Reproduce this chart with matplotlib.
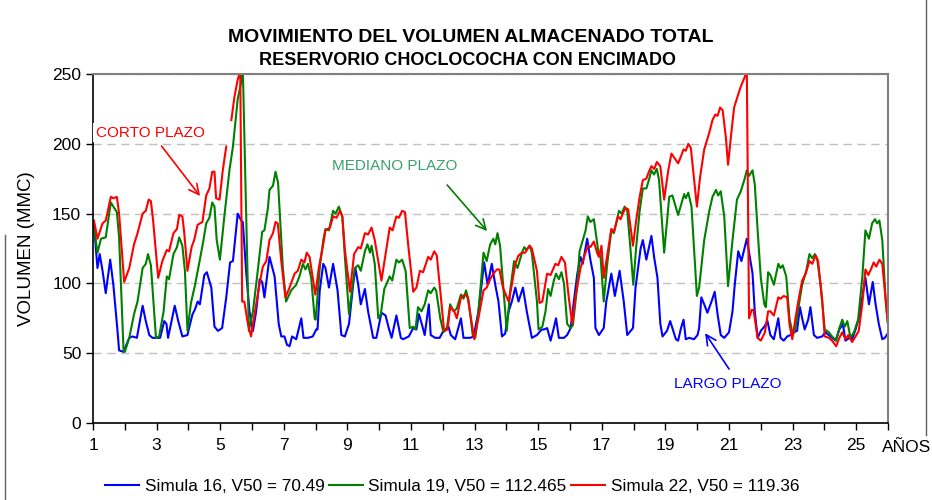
import matplotlib
matplotlib.use("Agg")
import matplotlib.pyplot as plt
import numpy as np

plt.rcParams['font.family'] = ['Liberation Sans', 'DejaVu Sans']

# years (x) and stored volume (MMC)
red_x = [1.03, 1.14, 1.30, 1.40, 1.56, 1.64, 1.75, 1.82, 1.98, 2.14, 2.29, 2.40, 2.56, 2.66, 2.75, 2.82, 2.89,
         3.05, 3.18, 3.32, 3.39, 3.53, 3.64, 3.71, 3.81, 3.87, 3.97, 4.10, 4.18, 4.29, 4.44, 4.56, 4.66, 4.75,
         4.82, 4.87, 4.98, 5.08, 5.19, 5.27, 5.35, 5.45, 5.55, 5.63, 5.69, 5.76, 5.87, 5.97, 6.08, 6.24, 6.34,
         6.45, 6.55, 6.66, 6.74, 6.81, 6.92, 7.05, 7.18, 7.34, 7.44, 7.55, 7.65, 7.72, 7.81, 7.99, 8.10, 8.24,
         8.31, 8.45, 8.55, 8.66, 8.76, 8.84, 8.92, 9.08, 9.21, 9.34, 9.42, 9.55, 9.65, 9.76, 9.86, 10.07, 10.20,
         10.33, 10.42, 10.54, 10.62, 10.72, 10.81, 10.91, 11.07, 11.17, 11.28, 11.38, 11.54, 11.62, 11.73, 11.81,
         11.94, 12.04, 12.15, 12.23, 12.36, 12.44, 12.57, 12.70, 12.78, 12.99, 13.12, 13.28, 13.38, 13.49, 13.59,
         13.70, 13.78, 13.89, 14.07, 14.17, 14.28, 14.38, 14.49, 14.59, 14.73, 14.80, 14.96, 15.04, 15.13, 15.28,
         15.39, 15.54, 15.63, 15.73, 15.84, 15.96, 16.07, 16.17, 16.33, 16.47, 16.57, 16.64, 16.75, 16.85, 16.91,
         16.99, 17.06, 17.17, 17.30, 17.38, 17.51, 17.59, 17.66, 17.74, 17.83, 17.98, 18.08, 18.19, 18.29, 18.40,
         18.48, 18.56, 18.65, 18.73, 18.84, 18.96, 19.09, 19.19, 19.28, 19.40, 19.49, 19.57, 19.64, 19.72, 19.80,
         19.99, 20.09, 20.22, 20.38, 20.48, 20.57, 20.64, 20.72, 20.80, 20.90, 20.97, 21.06, 21.16, 21.27, 21.37,
         21.48, 21.56, 21.63, 21.71, 21.77, 21.90, 22.00, 22.13, 22.23, 22.30, 22.41, 22.55, 22.62, 22.72, 22.83,
         22.90, 22.99, 23.09, 23.20, 23.30, 23.41, 23.53, 23.62, 23.72, 23.80, 23.93, 24.01, 24.14, 24.24, 24.37,
         24.47, 24.56, 24.66, 24.75, 24.87, 24.98, 25.08, 25.19, 25.29, 25.38, 25.48, 25.55, 25.63, 25.73, 25.82,
         25.92, 25.99]
red_y = [145, 132, 143, 145, 162, 161, 162, 150, 101, 111, 128, 136, 150, 152, 160, 159, 145,
         104, 116, 124, 123, 136, 139, 149, 148, 136, 109, 126, 131, 142, 144, 163, 168, 180,
         180, 161, 160, 181, 198, np.nan, 217, 234, 246, 252, 87, 87, 71, 62, 78, 100, 112,
         116, 131, 136, 144, 143, 116, 90, 97, 107, 109, 117, 115, 122, 119, 92, 111, 128,
         138, 140, 148, 147, 152, 148, 124, 94, 121, 126, 125, 136, 135, 140, 131, 102, 121,
         140, 138, 148, 147, 152, 151, 128, 94, 97, 109, 108, 119, 117, 123, 120,
         90, 66, 67, 83, 80, 75, 90, 92, 90, 60, 75, 95, 97, 103, 107,
         110, 110, 97, 87, 99, 114, 120, 122, 122, 127, 125, 109, 86, 87, 107,
         106, 114, 113, 119, 115, 90, 71, 90, 111, 121, 127, 126, 130, 122, 119,
         127, 104, 120, 139, 137, 148, 146, 150, 154, 153, 127, 145, 162, 174, 175,
         180, 184, 182, 187, 184, 160, 181, 193, 190, 186, 191, 196, 195, 200, 197,
         155, 176, 196, 208, 217, 221, 220, 226, 224, 205, 185, 205, 226, 234, 241,
         247, 252, 75, 81, 81, 61, 59, 65, 80, 80, 77, 90, 89, 91, 90,
         71, 60, 75, 90, 102, 107, 116, 114, 120, 116, 88, 62, 61, 59, 55,
         61, 65, 60, 63, 58, 62, 66, 85, 110, 106, 111, 115, 112, 117, 114,
         90, 73]

green_x = [1.03, 1.14, 1.25, 1.40, 1.56, 1.75, 1.82, 1.96, 2.00, 2.14, 2.29, 2.40, 2.56, 2.66, 2.73, 2.82, 2.98,
           3.08, 3.22, 3.32, 3.39, 3.53, 3.64, 3.71, 3.81, 3.89, 3.97, 4.08, 4.20, 4.31, 4.45, 4.56, 4.66, 4.75,
           4.82, 4.89, 4.99, 5.13, 5.29, 5.40, 5.55, 5.66, 5.71, 5.90, 6.03, 6.18, 6.32, 6.39, 6.50, 6.55, 6.66,
           6.74, 6.82, 6.97, 7.07, 7.23, 7.39, 7.49, 7.60, 7.68, 7.76, 7.86, 7.97, 8.00, 8.13, 8.24, 8.31, 8.42,
           8.55, 8.63, 8.73, 8.84, 8.92, 9.05, 9.23, 9.34, 9.42, 9.55, 9.63, 9.71, 9.76, 9.86, 9.97, 10.05, 10.16,
           10.33, 10.41, 10.54, 10.62, 10.72, 10.83, 10.96, 11.07, 11.14, 11.22, 11.33, 11.43, 11.54, 11.62, 11.73,
           11.79, 11.92, 12.02, 12.13, 12.23, 12.34, 12.44, 12.57, 12.65, 12.73, 12.81, 12.94, 13.02, 13.12, 13.28,
           13.38, 13.49, 13.59, 13.65, 13.72, 13.80, 13.91, 14.01, 14.12, 14.24, 14.35, 14.49, 14.56, 14.62, 14.73,
           14.80, 14.96, 15.01, 15.13, 15.23, 15.31, 15.39, 15.49, 15.56, 15.65, 15.73, 15.81, 15.91, 16.02, 16.09,
           16.23, 16.30, 16.40, 16.49, 16.56, 16.64, 16.75, 16.89, 16.96, 17.06, 17.17, 17.30, 17.38, 17.54, 17.62,
           17.72, 17.80, 17.90, 17.99, 18.08, 18.19, 18.29, 18.40, 18.48, 18.56, 18.64, 18.73, 18.80, 18.96, 19.12,
           19.22, 19.40, 19.59, 19.64, 19.72, 19.82, 19.99, 20.06, 20.22, 20.38, 20.48, 20.59, 20.66, 20.74, 20.85,
           20.97, 21.11, 21.25, 21.37, 21.48, 21.56, 21.63, 21.74, 21.81, 21.90, 22.00, 22.11, 22.16, 22.23, 22.30,
           22.41, 22.55, 22.62, 22.69, 22.80, 22.90, 23.01, 23.09, 23.20, 23.30, 23.43, 23.53, 23.62, 23.70, 23.77,
           23.88, 24.01, 24.14, 24.24, 24.37, 24.47, 24.56, 24.64, 24.72, 24.82, 24.93, 25.06, 25.19, 25.29, 25.40,
           25.50, 25.59, 25.66, 25.73, 25.82, 25.92, 25.99]
green_y = [140, 122, 132, 133, 158, 151, 133, 52, 51, 61, 78, 87, 111, 114, 121, 113, 61,
           62, 80, 105, 103, 121, 126, 133, 127, 109, 66, 86, 98, 111, 128, 143, 147, 158,
           155, 131, 117, 148, 181, 198, 232, 244, 255, 66, 80, 109, 137, 138, 154, 167, 170,
           180, 172, 111, 87, 95, 99, 105, 114, 110, 114, 104, 75, 74, 111, 131, 139, 138,
           152, 150, 155, 148, 119, 78, 111, 113, 109, 123, 128, 122, 127, 114, 75, 78, 96,
           105, 102, 117, 115, 117, 109, 68, 69, 67, 83, 80, 85, 95, 93, 97,
           95, 75, 65, 68, 85, 80, 82, 92, 89, 95, 88, 63, 61, 80, 122,
           116, 128, 132, 128, 136, 127, 95, 66, 95, 116, 111, 122, 126, 124, 127,
           122, 87, 67, 69, 80, 96, 91, 102, 107, 103, 108, 100, 71, 68, 70,
           99, 123, 131, 138, 148, 144, 146, 123, 119, 87, 114, 138, 136, 152, 150,
           155, 152, 125, 99, 126, 152, 168, 168, 174, 181, 178, 182, 174, 122, 162,
           163, 149, 164, 161, 165, 155, 91, 97, 131, 152, 162, 167, 163, 166, 148,
           98, 131, 160, 166, 174, 181, 177, 181, 171, 138, 104, 85, 83, 108, 106,
           99, 114, 111, 113, 105, 75, 63, 68, 85, 99, 109, 121, 118, 121, 118,
           99, 67, 65, 62, 59, 68, 74, 69, 73, 61, 65, 74, 104, 138, 132,
           143, 146, 143, 145, 131, 90, 72]

blue_x = [1.03, 1.14, 1.21, 1.30, 1.40, 1.54, 1.64, 1.77, 1.82, 1.96, 2.14, 2.24, 2.38, 2.56, 2.66, 2.77, 2.87,
          3.11, 3.24, 3.31, 3.36, 3.45, 3.57, 3.68, 3.81, 3.97, 4.02, 4.13, 4.20, 4.29, 4.36, 4.50, 4.58, 4.72,
          4.82, 4.93, 5.06, 5.19, 5.31, 5.40, 5.55, 5.66, 5.71, 5.82, 5.92, 6.03, 6.13, 6.24, 6.32, 6.39, 6.55,
          6.71, 6.84, 6.92, 7.02, 7.10, 7.18, 7.26, 7.39, 7.55, 7.62, 7.76, 7.91, 8.02, 8.06, 8.13, 8.24, 8.31,
          8.42, 8.55, 8.69, 8.81, 8.92, 9.05, 9.18, 9.25, 9.34, 9.42, 9.55, 9.65, 9.81, 9.91, 10.07, 10.20, 10.30,
          10.39, 10.54, 10.68, 10.75, 10.93, 11.07, 11.17, 11.25, 11.35, 11.43, 11.56, 11.62, 11.76, 11.90, 12.02,
          12.18, 12.25, 12.39, 12.57, 12.65, 12.86, 12.97, 13.12, 13.30, 13.41, 13.54, 13.65, 13.75, 13.86, 13.96,
          14.07, 14.17, 14.28, 14.38, 14.52, 14.64, 14.80, 14.96, 15.11, 15.18, 15.28, 15.39, 15.49, 15.56, 15.65,
          15.81, 15.91, 16.02, 16.12, 16.23, 16.33, 16.40, 16.54, 16.64, 16.75, 16.80, 16.91, 17.06, 17.14, 17.30,
          17.41, 17.56, 17.69, 17.80, 17.98, 18.06, 18.22, 18.29, 18.40, 18.56, 18.65, 18.75, 18.84, 18.91, 19.05,
          19.15, 19.22, 19.33, 19.40, 19.49, 19.57, 19.64, 19.75, 19.90, 20.01, 20.06, 20.13, 20.22, 20.32, 20.45,
          20.55, 20.64, 20.74, 20.85, 21.00, 21.11, 21.18, 21.29, 21.39, 21.56, 21.69, 21.74, 21.81, 21.90, 22.00,
          22.11, 22.21, 22.30, 22.41, 22.55, 22.62, 22.72, 22.83, 22.93, 23.04, 23.14, 23.23, 23.30, 23.38, 23.49,
          23.56, 23.67, 23.77, 23.93, 24.03, 24.19, 24.35, 24.47, 24.58, 24.66, 24.79, 24.87, 24.98, 25.08, 25.19,
          25.29, 25.40, 25.52, 25.61, 25.71, 25.82, 25.90, 25.99]
blue_y = [142, 111, 121, 109, 93, 117, 99, 66, 52, 51, 61, 62, 61, 84, 73, 63, 61,
          61, 73, 71, 61, 71, 84, 73, 62, 63, 68, 78, 81, 87, 85, 106, 108, 97,
          69, 66, 68, 90, 115, 116, 150, 145, 144, 107, 80, 66, 80, 103, 101, 90, 119,
          105, 71, 62, 62, 56, 55, 62, 60, 75, 61, 61, 62, 67, 67, 95, 114, 111,
          97, 114, 95, 63, 62, 71, 99, 111, 99, 85, 96, 80, 61, 61, 79, 77, 68,
          61, 77, 61, 60, 62, 68, 67, 78, 70, 63, 85, 63, 61, 61, 66,
          69, 63, 60, 75, 61, 61, 62, 80, 115, 99, 114, 99, 87, 62, 64,
          80, 87, 97, 87, 97, 80, 61, 63, 67, 67, 68, 59, 68, 75, 61,
          61, 63, 68, 87, 107, 119, 114, 132, 117, 104, 68, 63, 68, 87, 107,
          91, 109, 87, 63, 68, 97, 125, 131, 117, 134, 118, 104, 71, 62, 66,
          73, 68, 60, 59, 68, 74, 60, 61, 60, 63, 68, 90, 85, 79, 87,
          94, 78, 63, 61, 65, 80, 99, 123, 116, 132, 114, 107, 80, 61, 66,
          69, 73, 63, 60, 75, 61, 59, 62, 63, 65, 66, 83, 75, 67, 74,
          83, 63, 61, 62, 65, 62, 59, 67, 71, 59, 61, 60, 67, 75, 90,
          104, 85, 101, 85, 71, 60, 61, 64]

labels = ['Simula 16, V50 = 70.49', 'Simula 19, V50 = 112.465', 'Simula 22, V50 = 119.36']
colors = ['#0000FF', '#008000', '#FF0000']

fig = plt.figure(figsize=(9.32, 5.0), dpi=100)
ax = fig.add_axes([0.0998, 0.154, 0.853, 0.698])

ax.plot(blue_x, blue_y, color=colors[0], lw=1.5, label=labels[0])
ax.plot(green_x, green_y, color=colors[1], lw=1.5, label=labels[1])
ax.plot(red_x, red_y, color=colors[2], lw=1.5, label=labels[2])

ax.set_xlim(1, 26)
ax.set_ylim(0, 250)
ax.set_xticks(range(1, 27))
ax.set_xticklabels([str(i) if i % 2 == 1 else '' for i in range(1, 27)])
ax.set_yticks(range(0, 251, 50))
ax.tick_params(axis='both', direction='out', length=5, width=1, labelsize=12.5, colors='black')
ax.tick_params(axis='x', pad=6)
ax.grid(axis='y', color='#c0c0c0', linestyle=(0, (6, 4)), lw=1)
for s in ['top', 'right']:
    ax.spines[s].set_color('#808080')
    ax.spines[s].set_linewidth(1.5)
for s in ['left', 'bottom']:
    ax.spines[s].set_color('black')
    ax.spines[s].set_linewidth(1.2)

ax.set_ylabel('VOLUMEN (MMC)', fontsize=13.5, labelpad=12)
fig.text(0.973, 0.105, 'AÑOS', fontsize=12.5, ha='center', va='center')

fig.text(0.505, 0.925, 'MOVIMIENTO DEL VOLUMEN ALMACENADO TOTAL', fontsize=14,
         fontweight='bold', ha='center', va='center')
fig.text(0.502, 0.879, 'RESERVORIO CHOCLOCOCHA CON ENCIMADO', fontsize=13,
         fontweight='bold', ha='center', va='center')

# annotations
ax.annotate('', xy=(4.42, 161), xytext=(3.1, 200),
            arrowprops=dict(arrowstyle='->', color='red', lw=1.2, mutation_scale=18))
ax.text(2.8, 208, 'CORTO PLAZO', color='red', fontsize=11, ha='center', va='center',
        bbox=dict(facecolor='white', edgecolor='none', pad=2), clip_on=False)
ax.annotate('', xy=(13.45, 136), xytext=(12.08, 172),
            arrowprops=dict(arrowstyle='->', color='#008000', lw=1.2, mutation_scale=18))
ax.text(10.5, 184, 'MEDIANO PLAZO', color='#3aa070', fontsize=11, ha='center', va='center')
ax.annotate('', xy=(20.2, 66), xytext=(21.05, 37),
            arrowprops=dict(arrowstyle='->', color='#0000FF', lw=1.2, mutation_scale=18))
ax.text(20.95, 28, 'LARGO PLAZO', color='#0000FF', fontsize=11, ha='center', va='center')

fig.legend(loc='center', bbox_to_anchor=(0.485, 0.028), ncol=3, frameon=False,
           fontsize=12.4, handlelength=2.0, columnspacing=0.25, handletextpad=0.3)

# chart border fragments
fig.add_artist(plt.Line2D([0.005, 0.005], [0.0, 0.53], color='#606060', lw=1))
fig.add_artist(plt.Line2D([0.994, 0.994], [0.13, 1.0], color='#606060', lw=1))

fig.savefig('out.png', dpi=100)
